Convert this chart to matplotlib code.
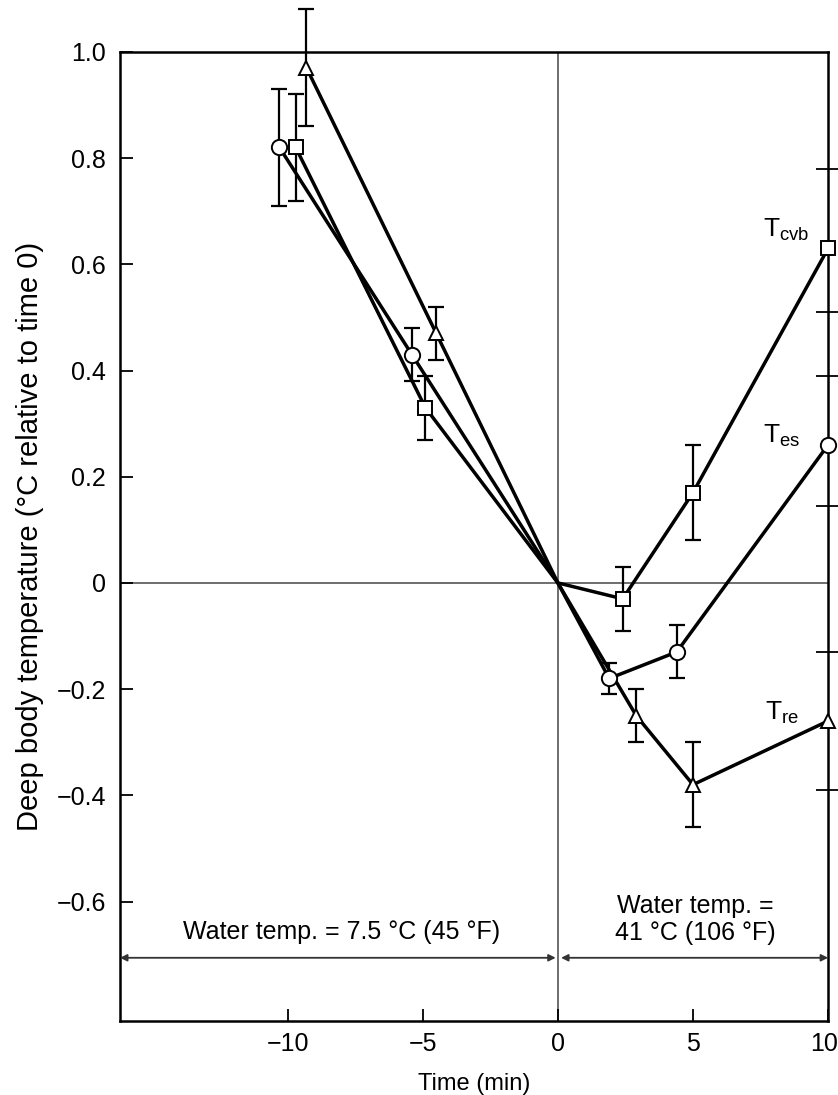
import matplotlib.pyplot as plt
import matplotlib.transforms as mtransforms
from matplotlib.ticker import FixedLocator, FuncFormatter

plt.rcParams["font.family"] = ["Liberation Sans", "DejaVu Sans"]

# Change in deep body temperature (°C relative to time 0), mean and SE,
# before (cold water) and after (warm water) the switch at time 0.
time_cvb = [-9.7, -4.9, 0, 2.4, 5.0, 10]
temp_cvb = [0.82, 0.33, 0, -0.03, 0.17, 0.63]
err_cvb = [0.10, 0.06, 0, 0.06, 0.09, 0]

time_es = [-10.3, -5.4, 0, 1.9, 4.4, 10]
temp_es = [0.82, 0.43, 0, -0.18, -0.13, 0.26]
err_es = [0.11, 0.05, 0, 0.03, 0.05, 0]

time_re = [-9.3, -4.5, 0, 2.9, 5.0, 10]
temp_re = [0.97, 0.47, 0, -0.25, -0.38, -0.26]
err_re = [0.11, 0.05, 0, 0.05, 0.08, 0]

series = [
    ("cvb", time_cvb, temp_cvb, err_cvb, "s", (7.6, 0.652)),
    ("es", time_es, temp_es, err_es, "o", (7.6, 0.264)),
    ("re", time_re, temp_re, err_re, "^", (7.67, -0.258)),
]

x_ticks = [-10, -5, 0, 5, 10]
y_ticks = [1.0, 0.8, 0.6, 0.4, 0.2, 0, -0.2, -0.4, -0.6]
right_ticks = [0.78, 0.51, 0.39, 0.145, -0.13, -0.39]

fig = plt.figure(figsize=(8.38, 10.95), dpi=100)
ax = fig.add_axes([0.1432, 0.0676, 0.845, 0.885])

ax.axhline(0, color="#555555", lw=1.2, zorder=1)
ax.axvline(0, color="#555555", lw=1.2, zorder=1)

for name, t, v, e, mk, (lx, ly) in series:
    ax.plot(t, v, color="black", lw=2.5, zorder=3, clip_on=False)
    et = [ti for ti, ei in zip(t, e) if ei > 0]
    ev = [vi for vi, ei in zip(v, e) if ei > 0]
    ee = [ei for ei in e if ei > 0]
    ax.errorbar(et, ev, yerr=ee, fmt="none", ecolor="black", elinewidth=1.6,
                capsize=5.5, capthick=1.6, zorder=2, clip_on=False)
    pts = [(ti, vi) for ti, vi in zip(t, v) if ti != 0]
    ax.plot([p[0] for p in pts], [p[1] for p in pts], linestyle="none",
            marker=mk, markersize=10 if mk != "o" else 11,
            markerfacecolor="white", markeredgecolor="black",
            markeredgewidth=1.4, zorder=4, clip_on=False)
    ax.text(lx, ly, r"T$_{\mathregular{%s}}$" % name, fontsize=19,
            ha="left", va="baseline", zorder=5)

# water temperature periods
arrow = dict(arrowstyle="<|-|>", color="#333333", lw=1.3, mutation_scale=10,
             shrinkA=0, shrinkB=0)
ax.annotate("", xy=(-16.2, -0.706), xytext=(-0.08, -0.706), arrowprops=arrow)
ax.annotate("", xy=(0.12, -0.706), xytext=(10, -0.706), arrowprops=arrow)
ax.text(-8.02, -0.657, "Water temp. = 7.5 °C (45 °F)", fontsize=18,
        ha="center", va="center")
ax.text(5.08, -0.634, "Water temp. =\n41 °C (106 °F)", fontsize=18,
        ha="center", va="center", linespacing=1.2)

ax.set_xlim(-16.2, 10)
ax.set_ylim(-0.825, 1.0)
ax.xaxis.set_major_locator(FixedLocator(x_ticks))
ax.yaxis.set_major_locator(FixedLocator(y_ticks))
ax.xaxis.set_major_formatter(FuncFormatter(lambda v, p: f"{v:g}".replace("-", "\u2212")))
ax.yaxis.set_major_formatter(FuncFormatter(
    lambda v, p: "0" if v == 0 else f"{v:.1f}".replace("-", "\u2212")))
ax.tick_params(axis="both", direction="in", length=9, width=1.3,
               labelsize=18, pad=8)
ax.tick_params(axis="y", pad=10)

# the last time label sits flush with the right frame
fig.canvas.draw()
last = ax.get_xticklabels()[-1]
last.set_horizontalalignment("right")
last.set_transform(last.get_transform()
                   + mtransforms.ScaledTranslation(10 / 100, 0, fig.dpi_scale_trans))

for s in ax.spines.values():
    s.set_linewidth(1.8)

ax2 = ax.twinx()
ax2.set_ylim(ax.get_ylim())
ax2.yaxis.set_major_locator(FixedLocator(right_ticks))
ax2.tick_params(axis="y", direction="inout", length=18, width=1.3,
                labelright=False)
for s in ax2.spines.values():
    s.set_visible(False)

ax.set_xlabel("Time (min)", fontsize=17, labelpad=12)
ax.set_ylabel("Deep body temperature (°C relative to time 0)", fontsize=21,
              labelpad=9)

fig.savefig("out.png", dpi=100)
